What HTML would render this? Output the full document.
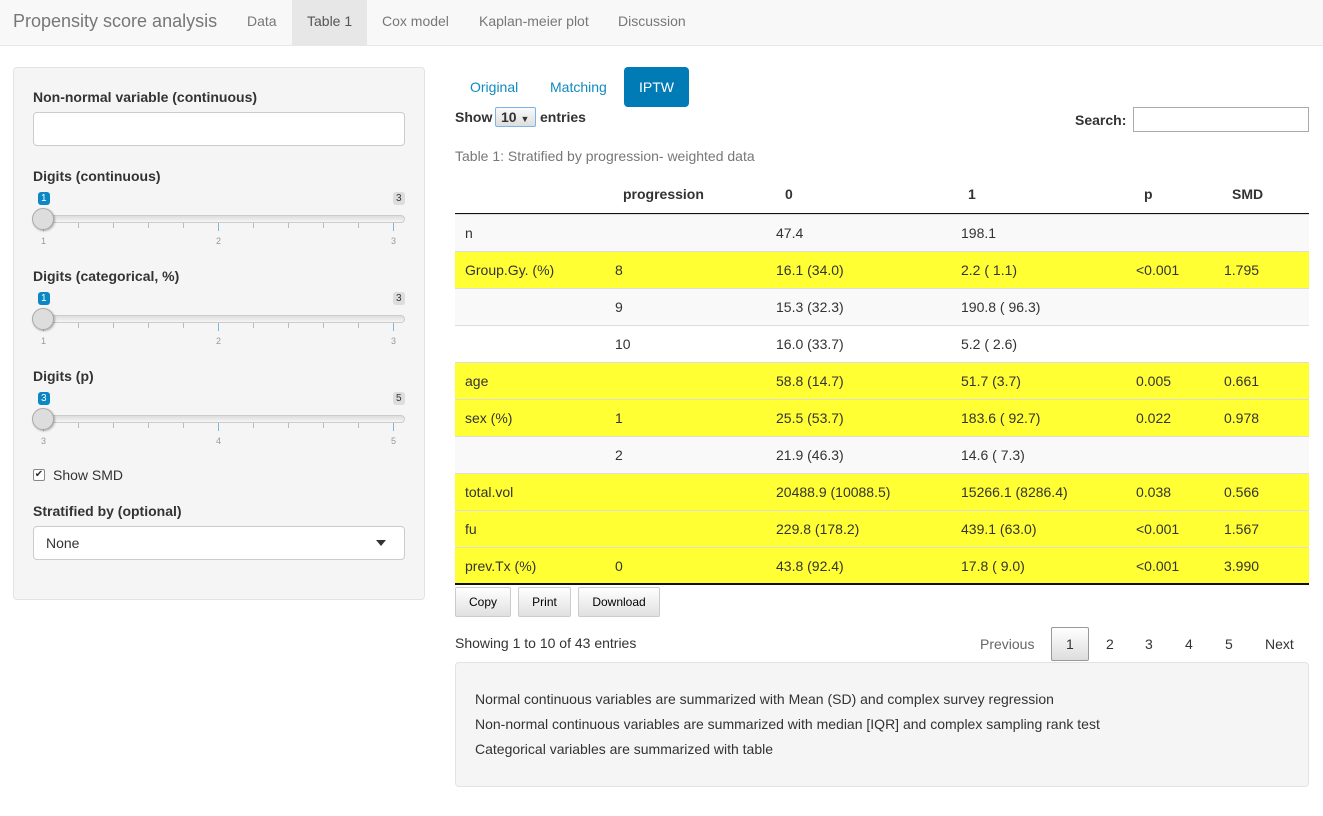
<!DOCTYPE html>
<html><head><meta charset="utf-8"><style>
*{box-sizing:border-box}
body{margin:0;width:1323px;height:816px;background:#fff;font-family:"Liberation Sans",sans-serif;font-size:14px;color:#333;position:relative;overflow:hidden}
.a{position:absolute;white-space:nowrap}
.nav{position:absolute;left:0;top:0;width:1323px;height:46px;background:#f8f8f8;border-bottom:1px solid #e7e7e7}
.side{position:absolute;left:13px;top:67px;width:412px;height:533px;background:#f5f5f5;border:1px solid #e3e3e3;border-radius:4px}
.lbl{font-weight:bold}
.inp{position:absolute;background:#fff;border:1px solid #ccc;border-radius:4px}
.track{position:absolute;height:8px;background:linear-gradient(#ddd,#f5f5f5);border:1px solid #ccc;border-radius:4px}
.handle{position:absolute;width:22px;height:22px;border-radius:50%;background:#ddd;border:1px solid #aaa;box-shadow:1px 1px 2px rgba(0,0,0,.3)}
.bub{position:absolute;font-size:10px;padding:1px 3px;border-radius:3px;line-height:11px}
.tick{position:absolute;width:1px;height:5px;background:#bbb}
.tl{position:absolute;font-size:9px;color:#999}
.row{position:absolute;left:455px;width:854px;height:37px;border-top:1px solid #ddd}
.y{background:#ffff33}.s{background:#f9f9f9}
.btn{position:absolute;top:587px;height:30px;border:1px solid #ccc;border-radius:2px;background:linear-gradient(#fff,#e0e0e0);font-size:12px;text-align:center;line-height:28px;color:#000}
</style></head><body>
<div class="nav"></div>
<div class="a" style="left:13px;top:11px;font-size:18px;color:#777">Propensity score analysis</div>
<div class="a" style="left:247px;top:13px;color:#777">Data</div>
<div class="a" style="left:292px;top:0;width:75px;height:46px;background:#e7e7e7"></div>
<div class="a" style="left:307px;top:13px;color:#555">Table 1</div>
<div class="a" style="left:382px;top:13px;color:#777">Cox model</div>
<div class="a" style="left:479px;top:13px;color:#777">Kaplan-meier plot</div>
<div class="a" style="left:618px;top:13px;color:#777">Discussion</div>

<div class="side"></div>
<div class="a lbl" style="left:33px;top:89px">Non-normal variable (continuous)</div>
<div class="inp" style="left:33px;top:112px;width:372px;height:34px"></div>

<div class="a lbl" style="left:33px;top:168px">Digits (continuous)</div>
<div class="a lbl" style="left:33px;top:268px">Digits (categorical, %)</div>
<div class="a lbl" style="left:33px;top:368px">Digits (p)</div>

<!-- sliders -->
<div id="sl"></div>

<div class="a" style="left:33px;top:469px;width:12px;height:12px;border:1px solid #888;background:#fff;border-radius:2px;font-size:10px;line-height:10px;text-align:center">✔</div>
<div class="a" style="left:53px;top:467px">Show SMD</div>
<div class="a lbl" style="left:33px;top:503px">Stratified by (optional)</div>
<div class="inp" style="left:33px;top:526px;width:372px;height:34px"></div>
<div class="a" style="left:46px;top:535px">None</div>
<div class="a" style="left:376px;top:540px;width:0;height:0;border-left:5px solid transparent;border-right:5px solid transparent;border-top:6px solid #333"></div>

<!-- tabs -->
<div class="a" style="left:470px;top:79px;color:#0f8bbf">Original</div>
<div class="a" style="left:550px;top:79px;color:#0f8bbf">Matching</div>
<div class="a" style="left:624px;top:67px;width:65px;height:40px;background:#007bb5;border-radius:4px"></div>
<div class="a" style="left:639px;top:79px;color:#fff">IPTW</div>
<div class="a lbl" style="left:455px;top:109px">Show</div>
<div class="a" style="left:495px;top:107px;width:41px;height:20px;border:1px solid #7ab4e8;border-radius:2px;background:linear-gradient(#fafafa,#ddd);font-weight:bold;padding-left:5px;line-height:18px">10 <span style="font-size:9px">▼</span></div>
<div class="a lbl" style="left:540px;top:109px">entries</div>
<div class="a lbl" style="left:1075px;top:112px">Search:</div>
<div class="a" style="left:1133px;top:107px;width:176px;height:25px;border:1px solid #aaa"></div>
<div class="a" style="left:455px;top:148px;color:#777">Table 1: Stratified by progression- weighted data</div>

<div class="a lbl" style="left:623px;top:186px">progression</div>
<div class="a lbl" style="left:785px;top:186px">0</div>
<div class="a lbl" style="left:968px;top:186px">1</div>
<div class="a lbl" style="left:1144px;top:186px">p</div>
<div class="a lbl" style="left:1232px;top:186px">SMD</div>
<div class="a" style="left:455px;top:213px;width:854px;height:2px;background:#111"></div>
<div id="tb"></div>
<div class="a" style="left:455px;top:583px;width:854px;height:2px;background:#111"></div>

<div class="btn" style="left:455px;width:56px">Copy</div>
<div class="btn" style="left:518px;width:53px">Print</div>
<div class="btn" style="left:578px;width:82px">Download</div>

<div class="a" style="left:455px;top:635px">Showing 1 to 10 of 43 entries</div>
<div class="a" style="left:980px;top:636px;color:#666">Previous</div>
<div class="a" style="left:1051px;top:627px;width:38px;height:34px;border:1px solid #999;border-radius:2px;background:linear-gradient(#fff,#ddd)"></div>
<div class="a" style="left:1066px;top:636px">1</div>
<div class="a" style="left:1106px;top:636px">2</div>
<div class="a" style="left:1145px;top:636px">3</div>
<div class="a" style="left:1185px;top:636px">4</div>
<div class="a" style="left:1225px;top:636px">5</div>
<div class="a" style="left:1265px;top:636px">Next</div>

<div class="a" style="left:455px;top:662px;width:854px;height:125px;background:#f5f5f5;border:1px solid #e3e3e3;border-radius:4px"></div>
<div class="a" style="left:475px;top:691px">Normal continuous variables are summarized with Mean (SD) and complex survey regression</div>
<div class="a" style="left:475px;top:716px">Non-normal continuous variables are summarized with median [IQR] and complex sampling rank test</div>
<div class="a" style="left:475px;top:741px">Categorical variables are summarized with table</div>

<script>
var sl='';
[[219,'1','3',['1','2','3']],[319,'1','3',['1','2','3']],[419,'3','5',['3','4','5']]].forEach(function(s){
 var y=s[0];
 sl+='<div class="track" style="left:36px;top:'+(y-4)+'px;width:369px"></div>';
 for(var i=0;i<11;i++){var x=43+i*35;var big=i%5==0;
  sl+='<div class="tick" style="left:'+x+'px;top:'+(y+4)+'px;'+(big?'height:8px;background:#7ab8d8':'')+'"></div>';}
 sl+='<div class="tl" style="left:41px;top:'+(y+17)+'px">'+s[3][0]+'</div><div class="tl" style="left:216px;top:'+(y+17)+'px">'+s[3][1]+'</div><div class="tl" style="left:391px;top:'+(y+17)+'px">'+s[3][2]+'</div>';
 sl+='<div class="bub" style="left:38px;top:'+(y-27)+'px;background:#0b87c4;color:#fff">'+s[1]+'</div>';
 sl+='<div class="bub" style="left:393px;top:'+(y-27)+'px;background:#ddd;color:#333">'+s[2]+'</div>';
 sl+='<div class="handle" style="left:32px;top:'+(y-11)+'px"></div>';
});
document.getElementById('sl').innerHTML=sl;
var rows=[['s','n','','47.4','198.1','',''],['y','Group.Gy. (%)','8','16.1 (34.0)','2.2 ( 1.1)','<0.001','1.795'],['s','','9','15.3 (32.3)','190.8 ( 96.3)','',''],['','','10','16.0 (33.7)','5.2 ( 2.6)','',''],['y','age','','58.8 (14.7)','51.7 (3.7)','0.005','0.661'],['y','sex (%)','1','25.5 (53.7)','183.6 ( 92.7)','0.022','0.978'],['s','','2','21.9 (46.3)','14.6 ( 7.3)','',''],['y','total.vol','','20488.9 (10088.5)','15266.1 (8286.4)','0.038','0.566'],['y','fu','','229.8 (178.2)','439.1 (63.0)','<0.001','1.567'],['y','prev.Tx (%)','0','43.8 (92.4)','17.8 ( 9.0)','<0.001','3.990']];
var xs=[465,615,776,961,1136,1224],h='';
rows.forEach(function(r,i){var t=214+i*37;
 h+='<div class="row '+r[0]+'" style="top:'+t+'px"></div>';
 for(var j=0;j<6;j++)if(r[j+1])h+='<div class="a" style="left:'+xs[j]+'px;top:'+(t+11)+'px">'+r[j+1].replace('<','&lt;')+'</div>';
});
document.getElementById('tb').innerHTML=h;
</script>
</body></html>
